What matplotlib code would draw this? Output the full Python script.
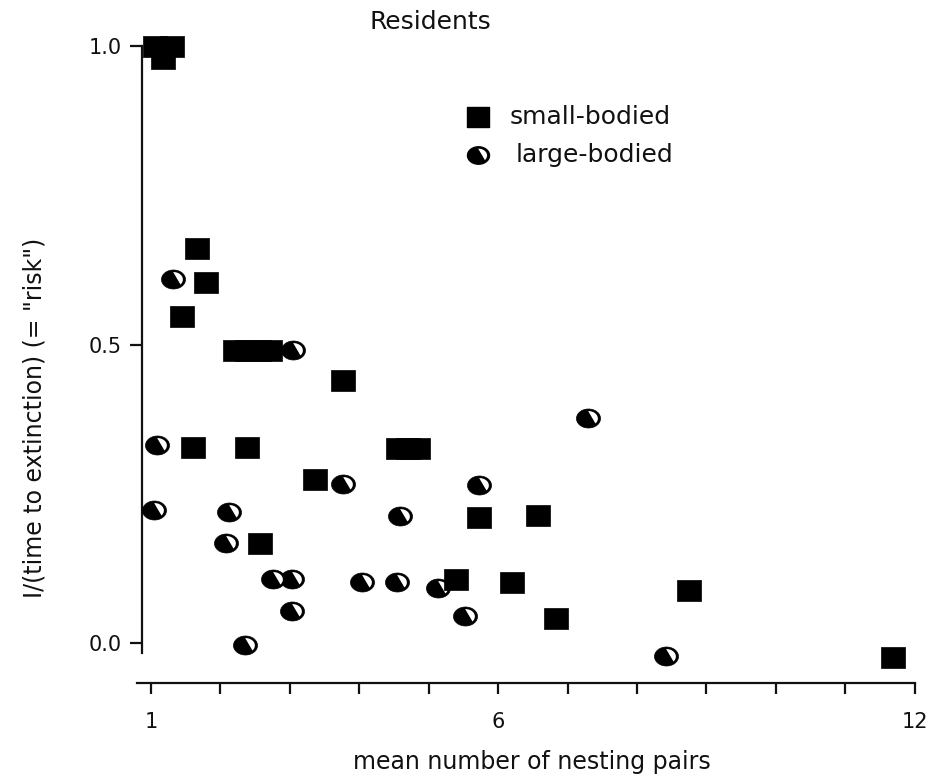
import numpy as np
import matplotlib
matplotlib.use("Agg")
import matplotlib.pyplot as plt
from matplotlib.path import Path

plt.rcParams['font.family'] = ['DejaVu Sans']

# Small-bodied species (squares)
small_x = [1.06, 1.30, 1.17, 1.66, 1.80, 1.45,
           2.21, 2.38, 2.55, 2.72, 3.77,
           1.60, 2.39, 4.56, 4.70, 4.85,
           3.36, 5.73, 6.57, 2.57,
           5.40, 6.20, 6.84, 8.75, 11.69]
small_y = [1.00, 1.00, 0.98, 0.662, 0.605, 0.548,
           0.49, 0.49, 0.49, 0.49, 0.44,
           0.328, 0.328, 0.327, 0.327, 0.327,
           0.274, 0.211, 0.214, 0.168,
           0.107, 0.102, 0.042, 0.089, -0.023]

# Large-bodied species (half-moon circles)
large_x = [1.32, 3.04, 1.09, 3.77, 5.73,
           1.05, 2.12, 4.59, 2.08,
           2.76, 3.03, 4.04, 4.54, 5.13,
           3.03, 5.52, 2.36, 7.30, 8.42]
large_y = [0.610, 0.49, 0.332, 0.267, 0.265,
           0.223, 0.219, 0.212, 0.168,
           0.107, 0.107, 0.102, 0.102, 0.092,
           0.053, 0.045, -0.003, 0.377, -0.022]

x_ticks = list(range(1, 13))
x_ticklabels = ['1' if t == 1 else '6' if t == 6 else '12' if t == 12 else '' for t in x_ticks]
y_ticks = [0.0, 0.5, 1.0]
y_ticklabels = ['0.0', '0.5', '1.0']

title = "Residents"
x_label = "mean number of nesting pairs"
y_label = 'I/(time to extinction) (= "risk")'
legend_labels = ["small-bodied", "large-bodied"]

TEXT = '#111111'

# --- marker shapes -------------------------------------------------------
# slightly wide rectangle for small-bodied
rect = Path([(-1.2, -1.05), (1.2, -1.05), (1.2, 1.05), (-1.2, 1.05), (-1.2, -1.05)],
            [Path.MOVETO, Path.LINETO, Path.LINETO, Path.LINETO, Path.CLOSEPOLY])

# black ellipse with a white circular segment on its lower right side
t = np.linspace(0, 2 * np.pi, 73)
ex, ey = 1.2, 0.95
ell = Path(np.column_stack([ex * np.cos(t), ey * np.sin(t)]), closed=True)
ell_scale = ex

inner = 0.78
a = np.radians(np.linspace(-42, 92, 40))
seg_pts = np.column_stack([inner * ex * np.cos(a), inner * ey * np.sin(a)])
seg_pts = np.vstack([seg_pts, seg_pts[:1]])
seg = Path(seg_pts, closed=True)
seg_scale = np.max(np.abs(seg_pts))

dpi = 100
sq_ms = 24.0 * 72 / dpi
el_ms = 24.0 * 72 / dpi
seg_ms = el_ms * seg_scale / ell_scale

# --- figure ---------------------------------------------------------------
W, H = 931, 775
fig = plt.figure(figsize=(W / dpi, H / dpi), dpi=dpi)
fig.patch.set_facecolor('white')

xlim = (0.80, 12.05)
ylim = (-0.067, 1.02)
px_per_x = 69.45
px_per_y = 597.0
ax_left, ax_bottom = 137, 683
ax_w = (xlim[1] - xlim[0]) * px_per_x
ax_h = (ylim[1] - ylim[0]) * px_per_y
ax = fig.add_axes([ax_left / W, (H - ax_bottom) / H, ax_w / W, ax_h / H])
ax.set_xlim(*xlim)
ax.set_ylim(*ylim)

ax.plot(large_x, large_y, linestyle='none', marker=ell, markersize=el_ms,
        markerfacecolor='black', markeredgecolor='black', markeredgewidth=0.5,
        zorder=3, clip_on=False)
ax.plot(large_x, large_y, linestyle='none', marker=seg, markersize=seg_ms,
        markerfacecolor='white', markeredgewidth=0, zorder=3.1, clip_on=False)
ax.plot(small_x, small_y, linestyle='none', marker=rect, markersize=sq_ms,
        markerfacecolor='black', markeredgecolor='black', markeredgewidth=0.5,
        zorder=4, clip_on=False)

# detached axes
for s in ('top', 'right'):
    ax.spines[s].set_visible(False)
ax.spines['left'].set_position(('data', 0.87))
ax.spines['left'].set_bounds(-0.017, 1.0)
ax.spines['bottom'].set_bounds(0.80, 12.0)
for s in ('left', 'bottom'):
    ax.spines[s].set_linewidth(1.6)
    ax.spines[s].set_color('#111111')

ax.set_xticks(x_ticks)
ax.set_xticklabels(x_ticklabels)
ax.set_yticks(y_ticks)
ax.set_yticklabels(y_ticklabels)
ax.tick_params(axis='both', direction='out', width=1.6, color='#111111',
               labelsize=15, labelcolor=TEXT)
ax.tick_params(axis='x', length=8, pad=13)
ax.tick_params(axis='y', length=8.5, pad=6)

ax.set_xlabel(x_label, fontsize=17, color=TEXT)
ax.xaxis.label.set_va('center')
ax.xaxis.set_label_coords((532 - ax_left) / ax_w, (ax_bottom - 762) / ax_h)
ax.set_ylabel(y_label, fontsize=17, color=TEXT)
ax.yaxis.label.set_va('center')
ax.yaxis.label.set_ha('center')
ax.yaxis.set_label_coords((35 - ax_left) / ax_w, (ax_bottom - 418) / ax_h)

fig.text(430 / W, 1 - 22 / H, title, ha='center', va='center', fontsize=18,
         color=TEXT)

# legend, placed in figure pixels
def fig_xy(px, py):
    return px / W, 1 - py / H

lx, ly1, ly2 = 478, 117, 155
leg_ms = 22 * 72 / dpi
fig.lines.append(plt.Line2D([fig_xy(lx, ly1)[0]], [fig_xy(lx, ly1)[1]],
                            transform=fig.transFigure, linestyle='none',
                            marker=rect, markersize=leg_ms,
                            markerfacecolor='black', markeredgecolor='black'))
fig.lines.append(plt.Line2D([fig_xy(lx, ly2)[0]], [fig_xy(lx, ly2)[1]],
                            transform=fig.transFigure, linestyle='none',
                            marker=ell, markersize=leg_ms,
                            markerfacecolor='black', markeredgecolor='black'))
fig.lines.append(plt.Line2D([fig_xy(lx, ly2)[0]], [fig_xy(lx, ly2)[1]],
                            transform=fig.transFigure, linestyle='none',
                            marker=seg, markersize=leg_ms * seg_scale / ell_scale,
                            markerfacecolor='white', markeredgewidth=0))
fig.text(*fig_xy(510, ly1), legend_labels[0], ha='left', va='center',
         fontsize=18, color=TEXT)
fig.text(*fig_xy(516, ly2), legend_labels[1], ha='left', va='center',
         fontsize=18, color=TEXT)

fig.savefig('out.png', dpi=dpi, facecolor='white')
